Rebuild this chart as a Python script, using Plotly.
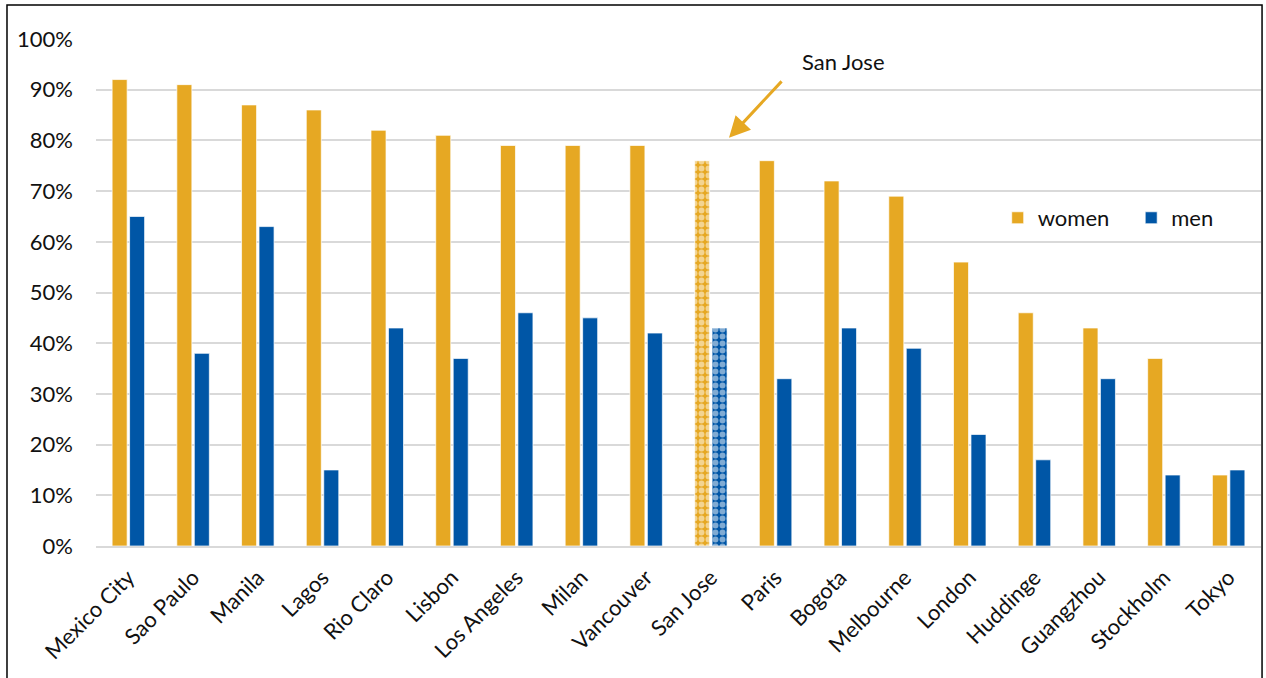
import plotly.graph_objects as go

cities = ["Mexico City", "Sao Paulo", "Manila", "Lagos", "Rio Claro", "Lisbon",
          "Los Angeles", "Milan", "Vancouver", "San Jose", "Paris", "Bogota",
          "Melbourne", "London", "Huddinge", "Guangzhou", "Stockholm", "Tokyo"]
women = [92, 91, 87, 86, 82, 81, 79, 79, 79, 76, 76, 72, 69, 56, 46, 43, 37, 14]
men = [65, 38, 63, 15, 43, 37, 46, 45, 42, 43, 33, 43, 39, 22, 17, 33, 14, 15]
highlight = "San Jose"
y_ticks = [0, 10, 20, 30, 40, 50, 60, 70, 80, 90, 100]
y_labels = [f"{v}%" for v in y_ticks]

WOMEN_C = "#E6A823"
MEN_C = "#0056A6"
FONT = "Lato"

shapes_pat = ["." if c == highlight else "" for c in cities]

fig = go.Figure()
fig.add_trace(go.Bar(
    x=cities, y=women, name="women\u00a0\u00a0\u00a0",
    marker=dict(color=WOMEN_C,
                line=dict(color="rgba(255,255,255,0.7)", width=1),
                pattern=dict(shape=shapes_pat, fgcolor="white", fillmode="overlay",
                             size=7, solidity=0.55)),
))
fig.add_trace(go.Bar(
    x=cities, y=men, name="men",
    marker=dict(color=MEN_C,
                line=dict(color="rgba(255,255,255,0.7)", width=1),
                pattern=dict(shape=shapes_pat, fgcolor="white", fillmode="overlay",
                             size=7, solidity=0.55)),
))

hi = cities.index(highlight)
fig.add_annotation(x=hi + 0.28, y=80.5, xref="x", yref="y", text="",
                   showarrow=True, arrowhead=2, arrowsize=1.4, arrowwidth=3,
                   arrowcolor=WOMEN_C, ax=54, ay=-58)
fig.add_annotation(x=hi + 2.05, y=95.5, xref="x", yref="y", text=highlight,
                   showarrow=False, font=dict(size=22, color="#111111", family=FONT))

fig.add_shape(type="rect", xref="paper", yref="paper",
              x0=-0.0764, x1=1.0009, y0=-0.5, y1=1.067,
              line=dict(color="black", width=1.5), fillcolor="rgba(0,0,0,0)")

fig.update_layout(
    width=1266, height=678,
    margin=dict(l=96, r=5, t=39, b=132, autoexpand=False),
    paper_bgcolor="white", plot_bgcolor="white",
    barmode="group", bargap=0.46, bargroupgap=0.14,
    font=dict(family=FONT, size=22, color="#111111"),
    showlegend=True,
    legend=dict(orientation="h", x=0.774, y=0.647, xanchor="left", yanchor="middle",
                font=dict(size=22, family=FONT), bgcolor="rgba(0,0,0,0)"),
    xaxis=dict(tickangle=-45, tickfont=dict(size=22), showgrid=False,
               showline=True, linecolor="#d9d9d9", linewidth=2, ticks="",
               ticklabelstandoff=8),
    yaxis=dict(range=[0, 100], tickvals=y_ticks, ticktext=y_labels,
               showgrid=True, gridcolor="#d9d9d9", gridwidth=2,
               zeroline=False, tickfont=dict(size=22), ticks="",
               ticklabelstandoff=22),
)

fig.write_html("out.html")
